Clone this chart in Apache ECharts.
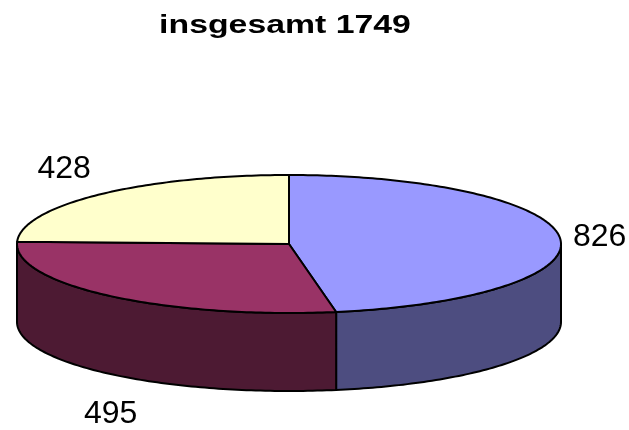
<!DOCTYPE html>
<html>
<head>
<meta charset="utf-8">
<script src="https://cdn.jsdelivr.net/npm/echarts@6/dist/echarts.min.js"></script>
<style>
html,body{margin:0;padding:0;background:#fff;}
#chart{width:629px;height:430px;}
</style>
</head>
<body>
<div id="chart"></div>
<script>
// ---- data ----
const titleText = 'insgesamt 1749';
const sliceValues = [826, 495, 428];
const sliceLabels = ['826', '495', '428'];
const topColors = ['#9999FF', '#993366', '#FFFFCC'];
const sideColors = ['#4D4D80', '#4D1A33', '#80806A'];

// ---- geometry of the 3D pie (layout only) ----
const CX = 289, CY = 244, RX = 272, RY = 69, DEPTH = 78;

const total = sliceValues.reduce((a, b) => a + b, 0);
const startAngles = [], endAngles = [];
let acc = 0;
sliceValues.forEach(v => {
  startAngles.push(acc / total * 360);
  acc += v;
  endAngles.push(acc / total * 360);
});

function pt(deg, dy) {
  const r = deg * Math.PI / 180;
  return [CX + RX * Math.sin(r), CY - RY * Math.cos(r) + (dy || 0)];
}
function arc(a1, a2, dy) {
  const pts = [];
  const n = Math.max(2, Math.ceil(Math.abs(a2 - a1) / 1));
  for (let i = 0; i <= n; i++) pts.push(pt(a1 + (a2 - a1) * i / n, dy));
  return pts;
}

const stroke = { stroke: '#000', lineWidth: 2, lineJoin: 'round' };

function renderItem(params, api) {
  const i = params.dataIndex;
  const a1 = startAngles[i], a2 = endAngles[i];
  const children = [];
  // visible outer side (front half: 90..270)
  const s = Math.max(a1, 90), e = Math.min(a2, 270);
  if (e > s) {
    const top = arc(s, e, 0);
    const bot = arc(e, s, DEPTH);
    children.push({
      type: 'polygon', z2: 1,
      shape: { points: top.concat(bot) },
      style: Object.assign({ fill: sideColors[i] }, stroke)
    });
  }
  // top face
  children.push({
    type: 'polygon', z2: 5,
    shape: { points: [[CX, CY]].concat(arc(a1, a2, 0)) },
    style: Object.assign({ fill: topColors[i] }, stroke)
  });
  // label
  const mid = (a1 + a2) / 2;
  const m = mid * Math.PI / 180;
  const sn = Math.sin(m), cs = Math.cos(m);
  const rim = pt(mid, cs < 0 ? DEPTH : 0);
  let ax, ay, align, valign;
  if (cs < -0.5) {
    ax = rim[0]; ay = rim[1] + 24; align = 'center'; valign = 'top';
  } else {
    ax = rim[0] + 13 * sn; ay = rim[1] - 13 * cs;
    align = sn > 0 ? 'left' : 'right';
    valign = cs > 0.3 ? 'bottom' : 'middle';
  }
  children.push({
    type: 'text', z2: 10,
    style: {
      x: ax, y: ay, text: sliceLabels[i],
      align: align, verticalAlign: valign,
      fill: '#000', fontSize: 32, fontFamily: 'Liberation Sans, Arial, sans-serif'
    }
  });
  return { type: 'group', children: children };
}

const chart = echarts.init(document.getElementById('chart'), null, { renderer: 'canvas' });
chart.setOption({
  backgroundColor: '#ffffff',
  animation: false,
  graphic: [{
    type: 'text',
    x: 285, y: 26,
    scaleX: 1.3,
    style: {
      text: titleText, x: 0, y: 0,
      align: 'center', verticalAlign: 'middle',
      fill: '#000', fontSize: 26, fontWeight: 'bold',
      fontFamily: 'Liberation Sans, Arial, sans-serif'
    }
  }],
  series: [{
    type: 'custom',
    coordinateSystem: 'none',
    renderItem: renderItem,
    data: sliceValues.map((v, i) => [i, v])
  }]
});
</script>
</body>
</html>
